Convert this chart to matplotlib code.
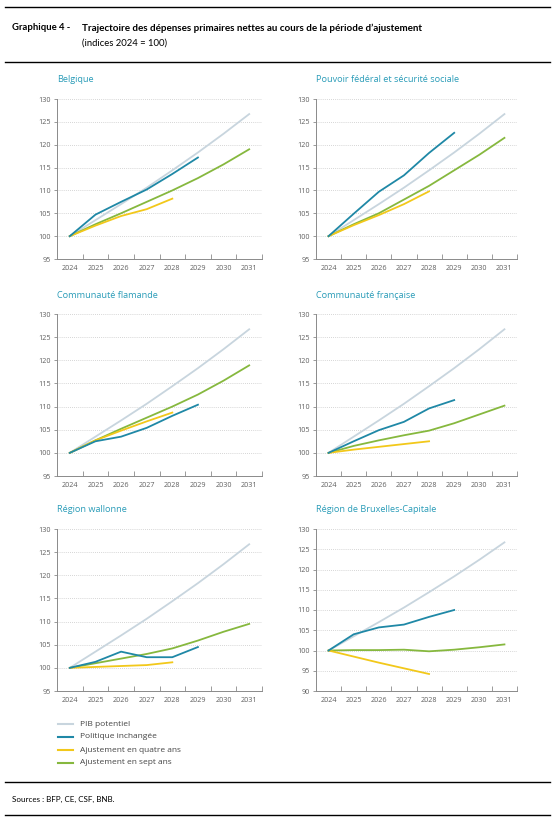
import matplotlib
matplotlib.use("Agg")
import matplotlib.pyplot as plt
from matplotlib.lines import Line2D

years = ["2024", "2025", "2026", "2027", "2028", "2029", "2030", "2031"]

series_names = ["PIB potentiel", "Politique inchangée",
                "Ajustement en quatre ans", "Ajustement en sept ans"]
colors = ["#c8d5de", "#1f88a6", "#f2c81a", "#86b83e"]

pib = [100, 103.5, 107.0, 110.6, 114.4, 118.3, 122.4, 126.7]

belgique_pol = [100, 104.7, 107.5, 110.2, 113.6, 117.2]
belgique_q4 = [100, 102.3, 104.4, 105.9, 108.2]
belgique_s7 = [100, 102.6, 105.0, 107.5, 110.0, 112.7, 115.7, 119.0]

federal_pol = [100, 104.9, 109.7, 113.3, 118.2, 122.6]
federal_q4 = [100, 102.4, 104.6, 107.0, 109.8]
federal_s7 = [100, 102.6, 105.0, 108.0, 111.0, 114.4, 117.8, 121.5]

flamande_pol = [100, 102.5, 103.5, 105.4, 108.0, 110.4]
flamande_q4 = [100, 102.7, 104.8, 106.8, 108.7]
flamande_s7 = [100, 102.7, 105.2, 107.6, 110.0, 112.6, 115.6, 118.9]

francaise_pol = [100, 102.5, 104.9, 106.7, 109.6, 111.4]
francaise_q4 = [100, 100.7, 101.3, 101.9, 102.5]
francaise_s7 = [100, 101.5, 102.7, 103.8, 104.8, 106.4, 108.3, 110.2]

wallonne_pol = [100, 101.3, 103.5, 102.3, 102.3, 104.5]
wallonne_q4 = [100, 100.2, 100.4, 100.6, 101.2]
wallonne_s7 = [100, 101.0, 102.0, 103.0, 104.2, 105.9, 107.8, 109.5]

bruxelles_pol = [100, 104.0, 105.7, 106.4, 108.3, 110.0]
bruxelles_q4 = [100, 98.5, 97.0, 95.6, 94.2]
bruxelles_s7 = [100, 100.1, 100.1, 100.2, 99.8, 100.2, 100.8, 101.5]

panels = [
    ("Belgique", belgique_pol, belgique_q4, belgique_s7, (95, 130)),
    ("Pouvoir fédéral et sécurité sociale", federal_pol, federal_q4, federal_s7, (95, 130)),
    ("Communauté flamande", flamande_pol, flamande_q4, flamande_s7, (95, 130)),
    ("Communauté française", francaise_pol, francaise_q4, francaise_s7, (95, 130)),
    ("Région wallonne", wallonne_pol, wallonne_q4, wallonne_s7, (95, 130)),
    ("Région de Bruxelles-Capitale", bruxelles_pol, bruxelles_q4, bruxelles_s7, (90, 130)),
]

W, H = 555, 819
fig = plt.figure(figsize=(W / 100, H / 100), dpi=100)
plt.rcParams["font.family"] = ["Open Sans", "DejaVu Sans"]

col_x = [(57, 262), (316, 517)]
row_y = [(99, 259), (314, 476), (529, 691)]
title_color = "#2a9cb8"
tick_color = "#606060"
spine_color = "#8a8a8a"

for i, (title, pol, q4, s7, ylim) in enumerate(panels):
    r, c = divmod(i, 2)
    x0, x1 = col_x[c]
    y0, y1 = row_y[r]
    ax = fig.add_axes([x0 / W, 1 - y1 / H, (x1 - x0) / W, (y1 - y0) / H])
    xs = list(range(len(years)))
    ax.plot(xs, pib, color=colors[0], lw=1.3, zorder=2)
    ax.plot(xs[:len(s7)], s7, color=colors[3], lw=1.3, zorder=3)
    ax.plot(xs[:len(q4)], q4, color=colors[2], lw=1.3, zorder=3)
    ax.plot(xs[:len(pol)], pol, color=colors[1], lw=1.3, zorder=4)
    ax.set_xlim(-0.5, 7.5)
    ax.set_ylim(*ylim)
    ax.set_yticks(range(ylim[0], ylim[1] + 1, 5))
    ax.set_xticks(xs)
    ax.set_xticklabels(years)
    ax.set_xticks([x + 0.5 for x in xs], minor=True)
    ax.tick_params(axis="x", which="major", length=0, pad=4,
                   labelsize=5.2, labelcolor=tick_color)
    ax.tick_params(axis="x", which="minor", direction="in", length=3.5,
                   width=0.6, color=spine_color)
    ax.tick_params(axis="y", which="major", direction="out", length=2.5,
                   width=0.6, color=spine_color, labelsize=5.2,
                   labelcolor=tick_color, pad=2)
    for s in ("top", "right"):
        ax.spines[s].set_visible(False)
    for s in ("left", "bottom"):
        ax.spines[s].set_color(spine_color)
        ax.spines[s].set_linewidth(0.7)
    for yv in range(ylim[0] + 5, ylim[1] + 1, 5):
        ax.axhline(yv, color="#c8c8c8", lw=0.6, ls=(0, (1, 1.5)), zorder=1)
    ax.text(0, 1.0 + 19 / (y1 - y0), title, transform=ax.transAxes,
            fontsize=6.6, color=title_color, ha="left", va="center")

# header and footer
def hline(y):
    fig.add_artist(Line2D([5 / W, 550 / W], [1 - y / H, 1 - y / H],
                          color="black", lw=1.0))

hline(7)
hline(62)
hline(782)
hline(815)
fig.text(12 / W, 1 - 28 / H, "Graphique 4 -", fontsize=6.8, fontweight="bold",
         ha="left", va="center", family=["Lato", "DejaVu Sans"])
fig.text(82 / W, 1 - 28 / H,
         "Trajectoire des dépenses primaires nettes au cours de la période d’ajustement",
         fontsize=7.1, fontweight="bold", ha="left", va="center",
         family=["Lato", "DejaVu Sans"])
fig.text(82 / W, 1 - 43 / H, "(indices 2024 = 100)", fontsize=6.8,
         ha="left", va="center", family=["Lato", "DejaVu Sans"])
fig.text(12 / W, 1 - 799 / H, "Sources : BFP, CE, CSF, BNB.", fontsize=5.8,
         ha="left", va="center", family=["Lato", "DejaVu Sans"])

# legend
for k, (name, col) in enumerate(zip(series_names, colors)):
    yy = 1 - (724 + 13 * k) / H
    fig.add_artist(Line2D([58 / W, 73 / W], [yy, yy], color=col, lw=1.5))
    fig.text(80 / W, yy, name, fontsize=6.0, color="#444444",
             ha="left", va="center")

fig.savefig("out.png", dpi=100)
